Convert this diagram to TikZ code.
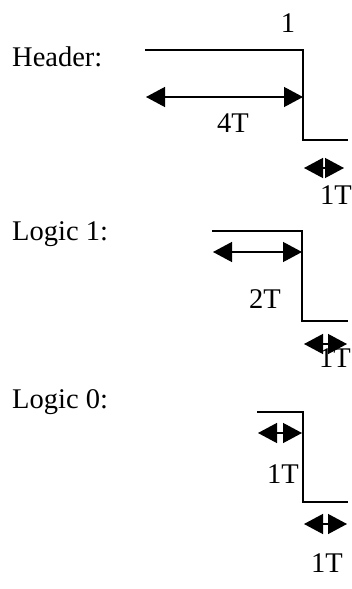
\documentclass[tikz,border=0pt]{standalone}
\usepackage{fontspec}
\setmainfont{Liberation Serif}
\usetikzlibrary{arrows.meta}
\begin{document}
\begin{tikzpicture}[
    x=1pt, y=-1pt,
    wave/.style={
        draw=black,
        line width=1.6pt
    },
    span/.style={
        draw=black,
        line width=1.3pt,
        {Triangle[length=19pt,width=20pt]}-{Triangle[length=19pt,width=20pt]}
    },
    lbl/.style={
        font=\fontsize{28.5}{32}\selectfont,
        inner sep=0pt,
        anchor=base
    },
    title/.style={
        lbl,
        anchor=base west
    }
]
\useasboundingbox (0,0) rectangle (352,589);

\node[title] (header) at (12,66) {Header:};
\node[title] (logicone) at (12,240) {Logic 1:};
\node[title] (logiczero) at (12,408) {Logic 0:};

\coordinate (h1) at (145,50);
\coordinate (h2) at (303,50);
\coordinate (h3) at (303,140);
\coordinate (h4) at (348,140);
\coordinate (ha) at (146,97);
\coordinate (hb) at (303,97);
\coordinate (hc) at (304,168);
\coordinate (hd) at (344,168);
\draw[wave] (h1) -- (h2) -- (h3) -- (h4);
\draw[span] (ha) -- (hb);
\draw[span] (hc) -- (hd);
\node[lbl] (hone) at (288,32) {1};
\node[lbl] (hlong) at (233,132) {4T};
\node[lbl] (hshort) at (336,204) {1T};

\coordinate (a1) at (212,231);
\coordinate (a2) at (302,231);
\coordinate (a3) at (302,321);
\coordinate (a4) at (348,321);
\coordinate (aa) at (213,252);
\coordinate (ab) at (302,252);
\coordinate (ac) at (304,344);
\coordinate (ad) at (347,344);
\draw[wave] (a1) -- (a2) -- (a3) -- (a4);
\draw[span] (aa) -- (ab);
\draw[span] (ac) -- (ad);
\node[lbl] (along) at (265,308) {2T};
\node[lbl] (ashort) at (335,367) {1T};

\coordinate (z1) at (257,412);
\coordinate (z2) at (303,412);
\coordinate (z3) at (303,502);
\coordinate (z4) at (348,502);
\coordinate (za) at (258,433);
\coordinate (zb) at (302,433);
\coordinate (zc) at (304,524);
\coordinate (zd) at (347,524);
\draw[wave] (z1) -- (z2) -- (z3) -- (z4);
\draw[span] (za) -- (zb);
\draw[span] (zc) -- (zd);
\node[lbl] (zlong) at (283,483) {1T};
\node[lbl] (zshort) at (327,572) {1T};

\end{tikzpicture}
\end{document}
